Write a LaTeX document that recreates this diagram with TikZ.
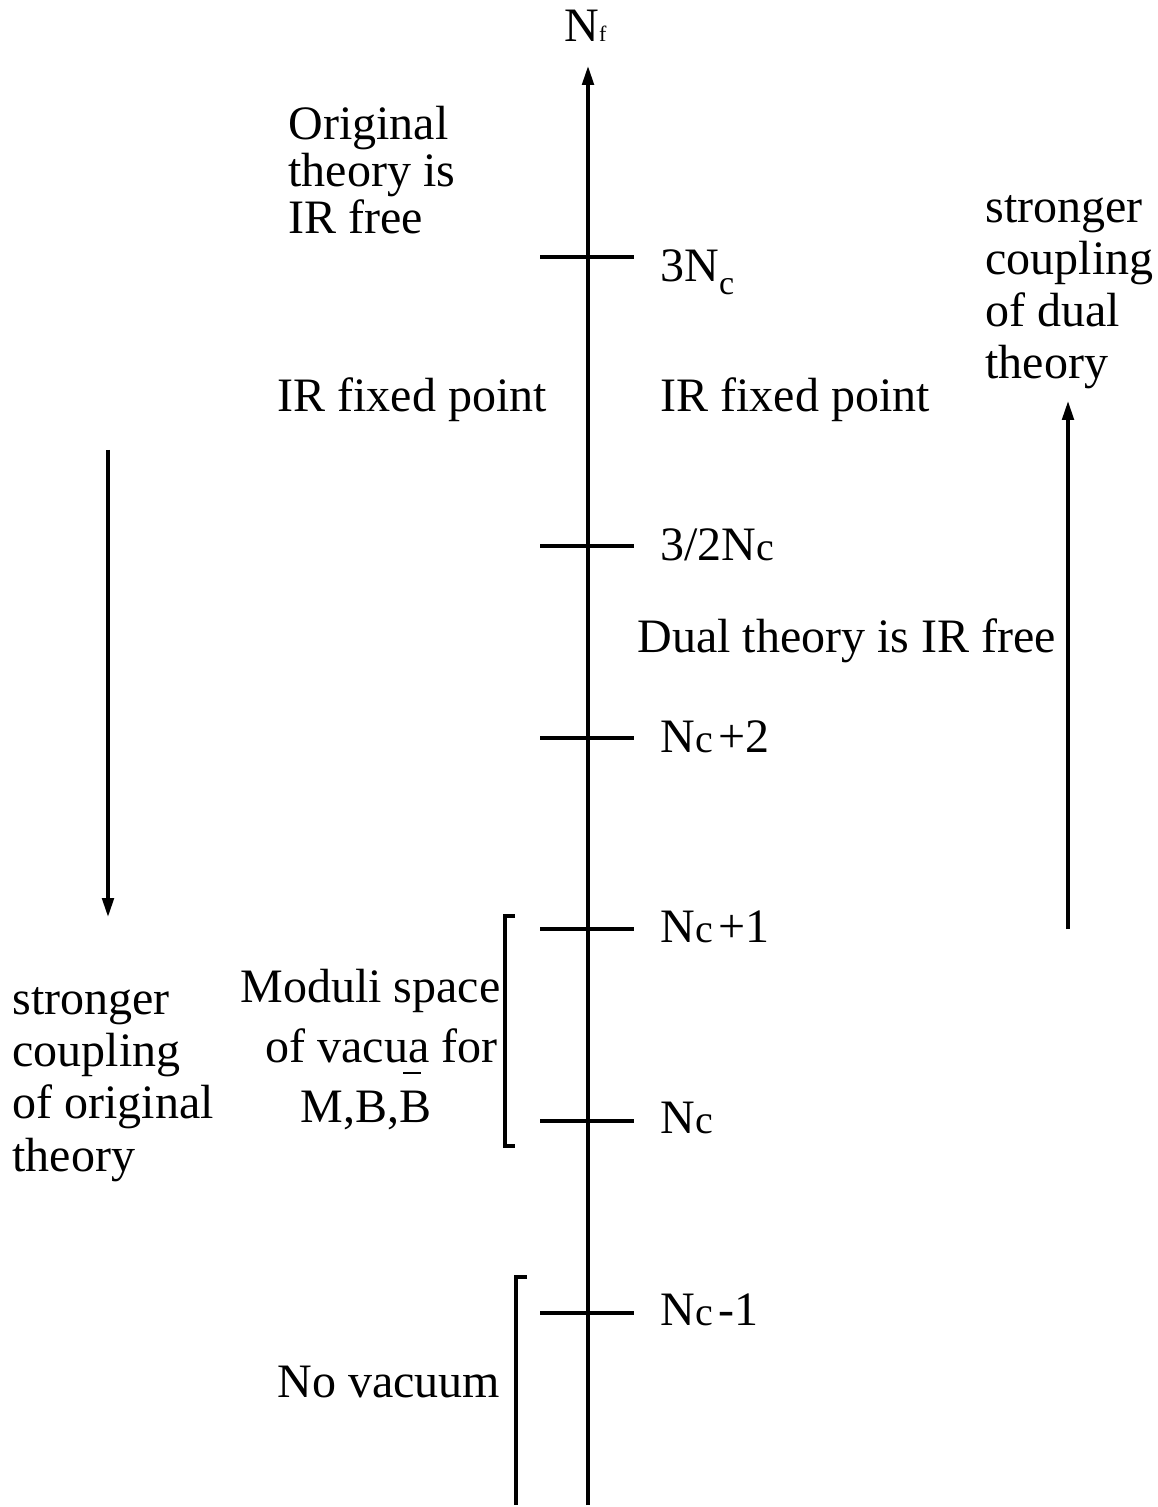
\documentclass[tikz,border=0pt]{standalone}
\usepackage{fontspec}
\setmainfont{Liberation Serif}
\usetikzlibrary{arrows.meta}
\newcommand{\smc}{{\fontsize{20}{20}\selectfont c}}
\begin{document}
\begin{tikzpicture}[x=0.5pt,y=-0.5pt,
  lbl/.style={anchor=base west, inner sep=0pt, font=\fontsize{24}{24}\selectfont},
  thick line/.style={line width=2.3pt},
  arr/.style={line width=2.3pt, -{Triangle[length=10pt,width=5.5pt]}},
  bar/.style={line width=0.6pt}]
\useasboundingbox (0,0) rectangle (1157,1507);
% main axis
\coordinate (axb) at (588,1505);
\coordinate (axt) at (588,65);
\draw[arr] (axb) -- (axt);
\node[lbl] (nf) at (564,42) {N\fontsize{11}{11}\selectfont f};
% ticks
\foreach \n/\y in {a/257,b/546,c/738,d/929,e/1121,f/1313}{
  \coordinate (t\n l) at (540,\y);
  \coordinate (t\n r) at (634,\y);
  \draw[thick line] (t\n l) -- (t\n r);
}
% tick labels
\node[lbl] (la) at (660,282) {3N\raisebox{-6.5pt}{\fontsize{17}{17}\selectfont c}};
\node[lbl] (lb) at (660,560) {3/2N\smc};
\node[lbl] (lc) at (660,752) {N\smc\hspace{3pt}+2};
\node[lbl] (ld) at (660,942) {N\smc\hspace{3pt}+1};
\node[lbl] (le) at (660,1133) {N\smc};
\node[lbl] (lf) at (660,1325) {N\smc\hspace{3pt}-1};
% text blocks
\node[lbl] (o1) at (288,140) {Original};
\node[lbl] (o2) at (288,187) {theory is};
\node[lbl] (o3) at (288,234) {IR free};
\node[lbl] (irl) at (277,412) {IR fixed point};
\node[lbl] (irr) at (660,412) {IR fixed point};
\node[lbl] (s1) at (985,223) {stronger};
\node[lbl] (s2) at (985,275) {coupling};
\node[lbl] (s3) at (985,327) {of dual};
\node[lbl] (s4) at (985,379) {theory};
\node[lbl] (dual) at (637,652) {Dual theory is IR free};
\node[lbl] (q1) at (12,1014) {stronger};
\node[lbl] (q2) at (12,1066) {coupling};
\node[lbl] (q3) at (12,1118) {of original};
\node[lbl] (q4) at (12,1171) {theory};
\node[lbl] (m1) at (240,1002) {Moduli space};
\node[lbl] (m2) at (265,1062) {of vacua for};
\node[lbl] (m3) at (300,1122) {M,B,B};
\coordinate (bar1) at (403,1073);
\coordinate (bar2) at (421,1073);
\draw[bar] (bar1) -- (bar2);
\node[lbl] (nv) at (277,1397) {No vacuum};
% brackets
\coordinate (ba1) at (515,916);
\coordinate (ba2) at (505,916);
\coordinate (ba3) at (505,1146);
\coordinate (ba4) at (515,1146);
\draw[thick line] (ba1) -- (ba2) -- (ba3) -- (ba4);
\coordinate (bb1) at (527,1277);
\coordinate (bb2) at (516,1277);
\coordinate (bb3) at (516,1505);
\draw[thick line] (bb1) -- (bb2) -- (bb3);
% side arrows
\coordinate (ra1) at (1068,929);
\coordinate (ra2) at (1068,400);
\draw[arr] (ra1) -- (ra2);
\coordinate (la1) at (108,450);
\coordinate (la2) at (108,918);
\draw[arr] (la1) -- (la2);
\end{tikzpicture}
\end{document}
